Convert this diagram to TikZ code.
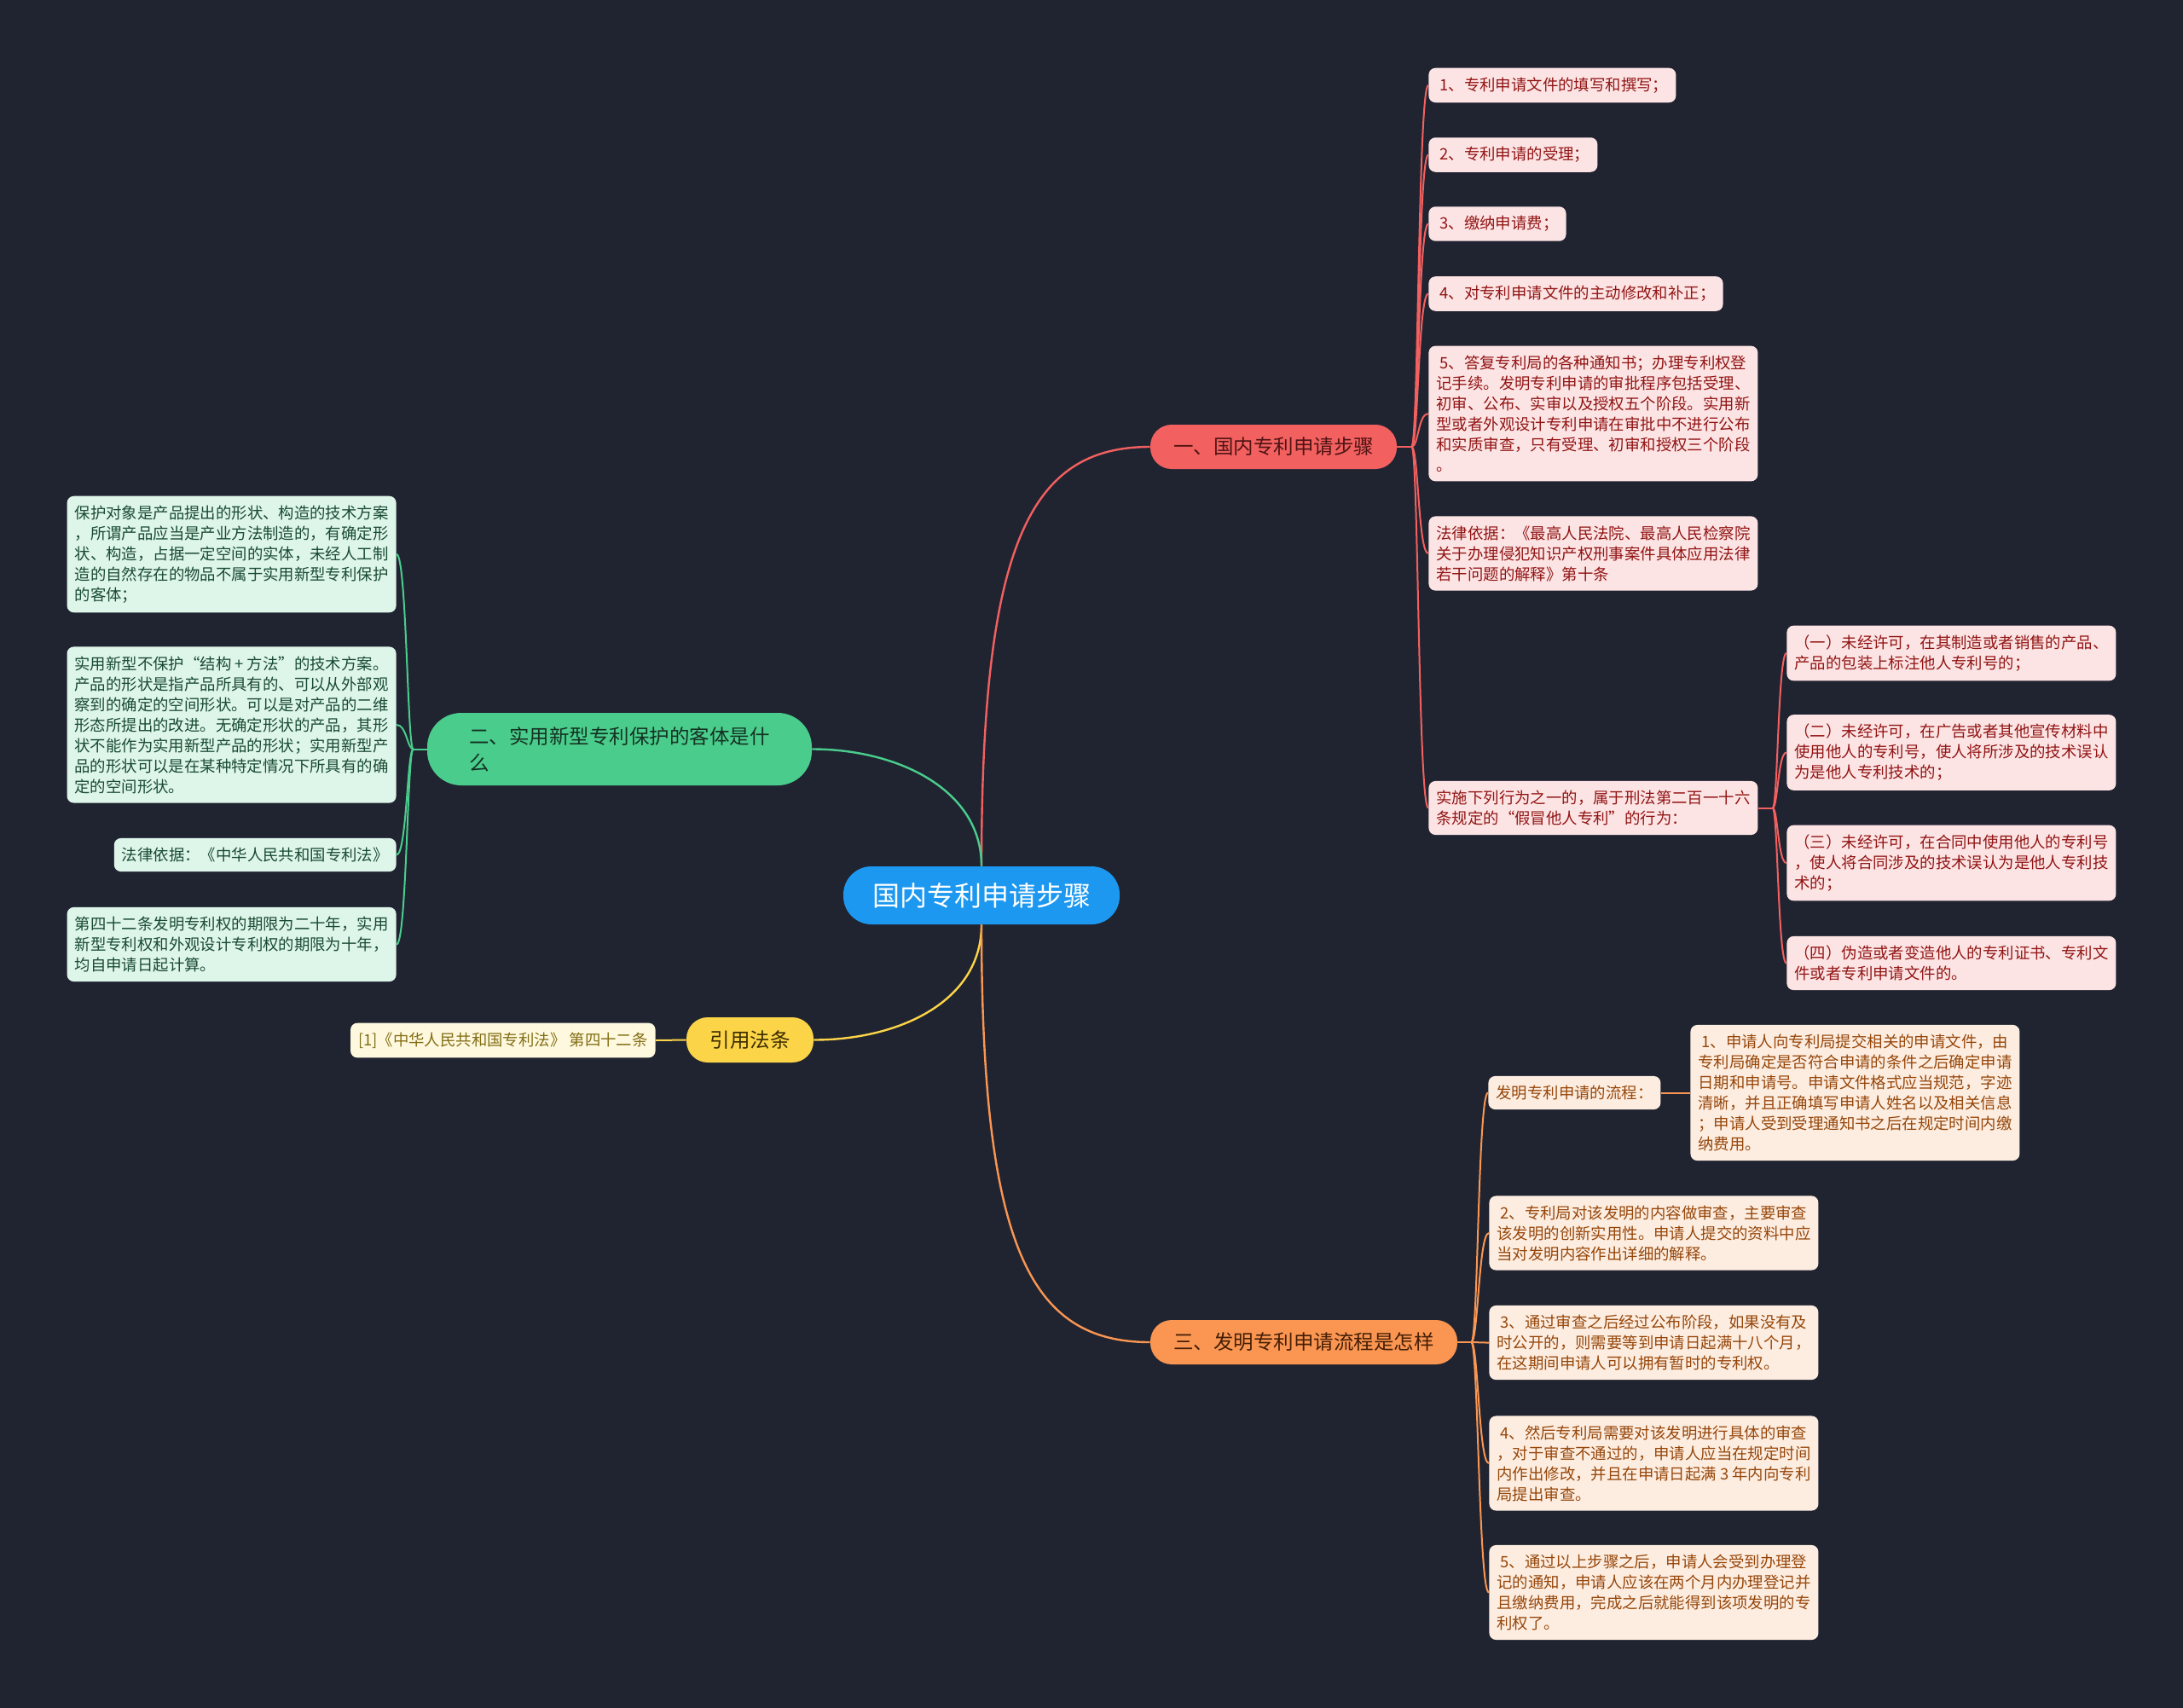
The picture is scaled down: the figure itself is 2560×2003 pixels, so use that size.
\documentclass[tikz,border=0pt]{standalone}
\usepackage{fontspec}
\setmainfont{Noto Sans CJK SC}
\usepackage{xcolor}
\usepackage{tikz}
\usetikzlibrary{positioning}

\definecolor{bgnavy}{RGB}{32,36,49}
\definecolor{rootblue}{RGB}{28,152,240}
\definecolor{redmain}{RGB}{242,96,96}
\definecolor{redleaf}{RGB}{253,228,228}
\definecolor{redtext}{RGB}{145,20,20}
\definecolor{redpill}{RGB}{80,20,20}
\definecolor{greenmain}{RGB}{74,205,140}
\definecolor{greenleaf}{RGB}{222,245,234}
\definecolor{greentext}{RGB}{25,75,50}
\definecolor{greenpill}{RGB}{20,50,35}
\definecolor{yellowmain}{RGB}{251,212,72}
\definecolor{yellowleaf}{RGB}{254,248,222}
\definecolor{yellowtext}{RGB}{130,110,20}
\definecolor{yellowpill}{RGB}{60,45,0}
\definecolor{orangemain}{RGB}{250,150,82}
\definecolor{orangeleaf}{RGB}{253,237,224}
\definecolor{orangetext}{RGB}{150,70,10}
\definecolor{orangepill}{RGB}{70,30,5}

\begin{document}
\begin{tikzpicture}[
  x=0.5pt, y=-0.5pt,
  every node/.style={inner sep=0pt},
  root/.style={fill=rootblue, text=white, rounded corners=16.5pt, minimum width=162pt, minimum height=34pt, font=\fontsize{16}{18}\selectfont},
  branch/.style={rounded corners=12.5pt, minimum height=26pt, font=\fontsize{11.75}{15.5}\selectfont},
  leaf/.style={rounded corners=4pt, align=left, inner xsep=4.5pt, inner ysep=5.5pt, font=\fontsize{9.2}{12}\selectfont},
  wide/.style={minimum width=193pt},
  rleaf/.style={leaf, fill=redleaf, text=redtext},
  gleaf/.style={leaf, fill=greenleaf, text=greentext},
  yleaf/.style={leaf, fill=yellowleaf, text=yellowtext},
  oleaf/.style={leaf, fill=orangeleaf, text=orangetext},
  mainline/.style={line width=1.2pt},
  rline/.style={draw=redmain, line width=1pt},
  gline/.style={draw=greenmain, line width=1pt},
  yline/.style={draw=yellowmain, line width=1pt},
  oline/.style={draw=orangemain, line width=1pt}
]
\fill[bgnavy] (0,0) rectangle (2560,2003);
\useasboundingbox (0,0) rectangle (2560,2003);

\node[root] (root) at (1151,1050) {国内专利申请步骤};
\node[branch, fill=redmain, text=redpill, minimum width=144.5pt] (red) at (1493.5,524) {一、国内专利申请步骤};
\node[branch, fill=greenmain, text=greenpill, minimum width=225.5pt, minimum height=42.5pt, rounded corners=20pt, align=left] (green) at (726.5,878.5) {二、实用新型专利保护的客体是什\\么};
\node[branch, fill=yellowmain, text=yellowpill, minimum width=74.5pt, minimum height=26.5pt] (yellow) at (879.5,1219.5) {引用法条};
\node[branch, fill=orangemain, text=orangepill, minimum width=180pt] (orange) at (1529,1574) {三、发明专利申请流程是怎样};

\node[rleaf, anchor=west] (r1) at (1675,100) {\ 1、专利申请文件的填写和撰写；};
\node[rleaf, anchor=west] (r2) at (1675,181.5) {\ 2、专利申请的受理；};
\node[rleaf, anchor=west] (r3) at (1675,262.5) {\ 3、缴纳申请费；};
\node[rleaf, anchor=west] (r4) at (1675,344.5) {\ 4、对专利申请文件的主动修改和补正；};
\node[rleaf, wide, anchor=west] (r5) at (1675,485) {\ 5、答复专利局的各种通知书；办理专利权登\\记手续。发明专利申请的审批程序包括受理、\\初审、公布、实审以及授权五个阶段。实用新\\型或者外观设计专利申请在审批中不进行公布\\和实质审查，只有受理、初审和授权三个阶段\\。};
\node[rleaf, wide, anchor=west] (r6) at (1675,649) {法律依据：《最高人民法院、最高人民检察院\\关于办理侵犯知识产权刑事案件具体应用法律\\若干问题的解释》第十条};
\node[rleaf, wide, anchor=west] (r7) at (1675,947.5) {实施下列行为之一的，属于刑法第二百一十六\\条规定的“假冒他人专利”的行为：};

\node[rleaf, wide, anchor=west] (s1) at (2095,766) {（一）未经许可，在其制造或者销售的产品、\\产品的包装上标注他人专利号的；};
\node[rleaf, wide, anchor=west] (s2) at (2095,882.5) {（二）未经许可，在广告或者其他宣传材料中\\使用他人的专利号，使人将所涉及的技术误认\\为是他人专利技术的；};
\node[rleaf, wide, anchor=west] (s3) at (2095,1012) {（三）未经许可，在合同中使用他人的专利号\\，使人将合同涉及的技术误认为是他人专利技\\术的；};
\node[rleaf, wide, anchor=west] (s4) at (2095,1129.5) {（四）伪造或者变造他人的专利证书、专利文\\件或者专利申请文件的。};

\node[gleaf, wide, anchor=east] (g1) at (465,650) {保护对象是产品提出的形状、构造的技术方案\\，所谓产品应当是产业方法制造的，有确定形\\状、构造，占据一定空间的实体，未经人工制\\造的自然存在的物品不属于实用新型专利保护\\的客体；};
\node[gleaf, wide, anchor=east] (g2) at (465,850) {实用新型不保护“结构 + 方法”的技术方案。\\产品的形状是指产品所具有的、可以从外部观\\察到的确定的空间形状。可以是对产品的二维\\形态所提出的改进。无确定形状的产品，其形\\状不能作为实用新型产品的形状；实用新型产\\品的形状可以是在某种特定情况下所具有的确\\定的空间形状。};
\node[gleaf, anchor=east] (g3) at (465,1002.5) {法律依据：《中华人民共和国专利法》};
\node[gleaf, wide, anchor=east] (g4) at (465,1107.5) {第四十二条发明专利权的期限为二十年，实用\\新型专利权和外观设计专利权的期限为十年，\\均自申请日起计算。};

\node[yleaf, anchor=east] (y1) at (769,1220) {[1]《中华人民共和国专利法》 第四十二条};

\node[oleaf, anchor=west] (o0) at (1745,1281.5) {发明专利申请的流程：};
\node[oleaf, wide, anchor=west] (o1) at (1982,1281.5) {\ 1、申请人向专利局提交相关的申请文件，由\\专利局确定是否符合申请的条件之后确定申请\\日期和申请号。申请文件格式应当规范，字迹\\清晰，并且正确填写申请人姓名以及相关信息\\；申请人受到受理通知书之后在规定时间内缴\\纳费用。};
\node[oleaf, wide, anchor=west] (o2) at (1746,1446) {\ 2、专利局对该发明的内容做审查，主要审查\\该发明的创新实用性。申请人提交的资料中应\\当对发明内容作出详细的解释。};
\node[oleaf, wide, anchor=west] (o3) at (1746,1574.5) {\ 3、通过审查之后经过公布阶段，如果没有及\\时公开的，则需要等到申请日起满十八个月，\\在这期间申请人可以拥有暂时的专利权。};
\node[oleaf, wide, anchor=west] (o4) at (1746,1716) {\ 4、然后专利局需要对该发明进行具体的审查\\，对于审查不通过的，申请人应当在规定时间\\内作出修改，并且在申请日起满 3 年内向专利\\局提出审查。};
\node[oleaf, wide, anchor=west] (o5) at (1746,1867.5) {\ 5、通过以上步骤之后，申请人会受到办理登\\记的通知，申请人应该在两个月内办理登记并\\且缴纳费用，完成之后就能得到该项发明的专\\利权了。};

\draw[mainline, redmain] (root.north) .. controls +(0,-380) and +(-140,0) .. (red.west);
\draw[mainline, greenmain] (root.north) .. controls +(0,-90) and +(100,0) .. (green.east);
\draw[mainline, yellowmain] (root.south) .. controls +(0,90) and +(100,0) .. (yellow.east);
\draw[mainline, orangemain] (root.south) .. controls +(0,380) and +(-140,0) .. (orange.west);

\coordinate (rj) at ([xshift=8.5pt]red.east);
\coordinate (sj) at ([xshift=8.5pt]r7.east);
\coordinate (gj) at ([xshift=-8pt]green.west);
\coordinate (oj) at ([xshift=8pt]orange.east);

\draw[rline] (red.east) -- (rj);
\foreach \n in {r1,r2,r3,r4,r5,r6,r7}
  \draw[rline] (rj) .. controls +(8,0) and +(-12,0) .. (\n.west);
\draw[rline] (r7.east) -- (sj);
\foreach \n in {s1,s2,s3,s4}
  \draw[rline] (sj) .. controls +(6,0) and +(-10,0) .. (\n.west);
\draw[gline] (green.west) -- (gj);
\foreach \n in {g1,g2,g3,g4}
  \draw[gline] (gj) .. controls +(-7,0) and +(12,0) .. (\n.east);
\draw[yline] (yellow.west) -- (y1.east);
\draw[oline] (orange.east) -- (oj);
\foreach \n in {o0,o2,o3,o4,o5}
  \draw[oline] (oj) .. controls +(8,0) and +(-12,0) .. (\n.west);
\draw[oline] (o0.east) -- (o1.west);
\end{tikzpicture}
\end{document}
